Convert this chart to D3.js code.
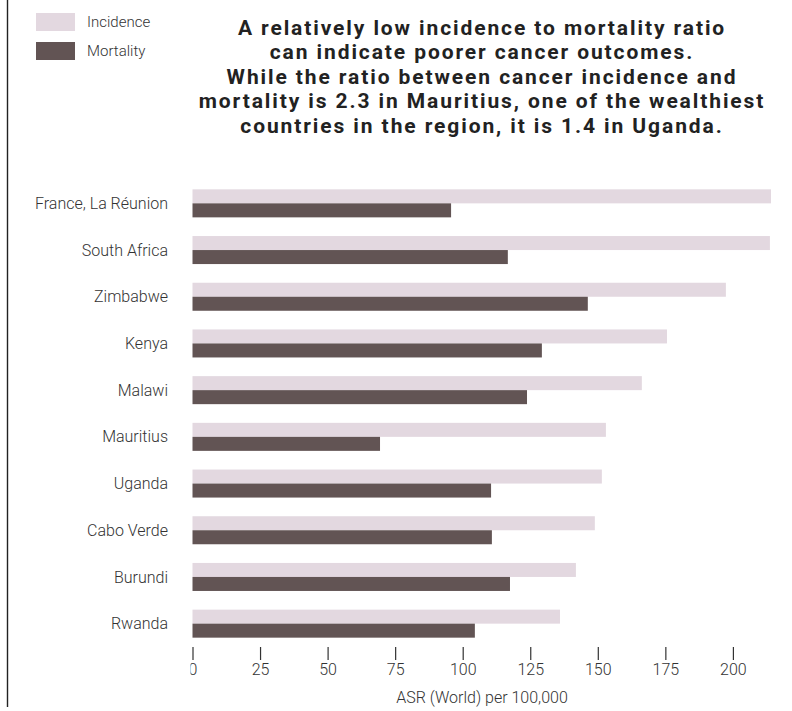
<!DOCTYPE html>
<html>
<head>
<meta charset="utf-8">
<script src="https://cdn.jsdelivr.net/npm/d3@7"></script>
<style>
  html, body { margin: 0; padding: 0; background: #fff; }
  svg { display: block; }
</style>
</head>
<body>
<script>
// Age-standardised rates (ASR World, per 100,000)
const countries = ["France, La Réunion", "South Africa", "Zimbabwe", "Kenya", "Malawi",
                   "Mauritius", "Uganda", "Cabo Verde", "Burundi", "Rwanda"];
const incidence = [214.1, 213.7, 197.4, 175.6, 166.3, 153.0, 151.5, 148.9, 141.9, 136.0];
const mortality = [95.7, 116.7, 146.3, 129.3, 123.8, 69.4, 110.5, 110.8, 117.5, 104.5];
const seriesNames = ["Incidence", "Mortality"];
const xTicks = [0, 25, 50, 75, 100, 125, 150, 175, 200];
const titleLines = [
  "A relatively low incidence to mortality ratio",
  "can indicate poorer cancer outcomes.",
  "While the ratio between cancer incidence and",
  "mortality is 2.3 in Mauritius, one of the wealthiest",
  "countries in the region, it is 1.4 in Uganda."
];
const axisTitle = "ASR (World) per 100,000";

const W = 792, H = 711;
const colors = { Incidence: "#e3d8e0", Mortality: "#625454" };
const labelFont = "Roboto, 'Noto Sans', sans-serif";
const labelSize = 16;

const svg = d3.select("body").append("svg")
  .attr("width", W).attr("height", H);

// left rule
svg.append("line")
  .attr("x1", 7.5).attr("x2", 7.5).attr("y1", 0).attr("y2", 707)
  .attr("stroke", "#222").attr("stroke-width", 1.4);

// legend
const legend = svg.append("g").attr("transform", "translate(36,13)");
seriesNames.forEach((name, i) => {
  const g = legend.append("g").attr("transform", `translate(0,${i * 29})`);
  g.append("rect").attr("width", 39).attr("height", 18).attr("fill", colors[name]);
  g.append("text").attr("x", 51).attr("y", 9).attr("dy", "0.35em")
    .attr("font-family", labelFont).attr("font-weight", 300)
    .attr("font-size", 15).attr("fill", "#333").text(name);
});

// title, one text element per line
svg.append("g")
  .attr("font-family", "Roboto, sans-serif").attr("font-weight", 700)
  .attr("font-size", 21).attr("letter-spacing", 1.9).attr("fill", "#222")
  .attr("text-anchor", "middle")
  .selectAll("text").data(titleLines).join("text")
  .attr("x", 482).attr("y", (d, i) => 35 + i * 24.4).text(d => d);

// scales
const x = d3.scaleLinear().domain([0, d3.max(incidence)]).range([192.5, 771]);
const y = d3.scaleBand().domain(countries).range([180, 647]).paddingInner(0.4).paddingOuter(0.2);
const sub = d3.scaleBand().domain(seriesNames).range([0, y.bandwidth()]);

const rows = countries.map((c, i) => ({ c, Incidence: incidence[i], Mortality: mortality[i] }));

const bars = svg.append("g");
rows.forEach(r => {
  seriesNames.forEach(s => {
    bars.append("rect")
      .attr("x", x(0)).attr("y", y(r.c) + sub(s))
      .attr("width", x(r[s]) - x(0)).attr("height", sub.bandwidth())
      .attr("fill", colors[s]);
  });
});

// category labels
svg.append("g").selectAll("text").data(countries).join("text")
  .attr("x", 168).attr("y", d => y(d) + y.bandwidth() / 2).attr("dy", "0.35em")
  .attr("text-anchor", "end").attr("font-family", labelFont).attr("font-weight", 300)
  .attr("font-size", labelSize).attr("fill", "#333").text(d => d);

// x axis, clipped at the plot's left edge
svg.append("clipPath").attr("id", "axclip")
  .append("rect").attr("x", 190.5).attr("y", -20).attr("width", 600).attr("height", 80);
const xAxis = svg.append("g").attr("transform", "translate(0,647)")
  .attr("clip-path", "url(#axclip)")
  .call(d3.axisBottom(x).tickValues(xTicks).tickSize(13).tickPadding(4));
xAxis.select(".domain").remove();
xAxis.selectAll(".tick line").attr("stroke", "#333").attr("stroke-width", 1.2);
xAxis.selectAll(".tick text").attr("font-family", labelFont).attr("font-weight", 300)
  .attr("font-size", labelSize).attr("fill", "#333");

svg.append("text").attr("x", 482).attr("y", 697).attr("dy", "0.35em")
  .attr("text-anchor", "middle").attr("font-family", labelFont).attr("font-weight", 300)
  .attr("font-size", labelSize).attr("fill", "#333").text(axisTitle);
</script>
</body>
</html>
